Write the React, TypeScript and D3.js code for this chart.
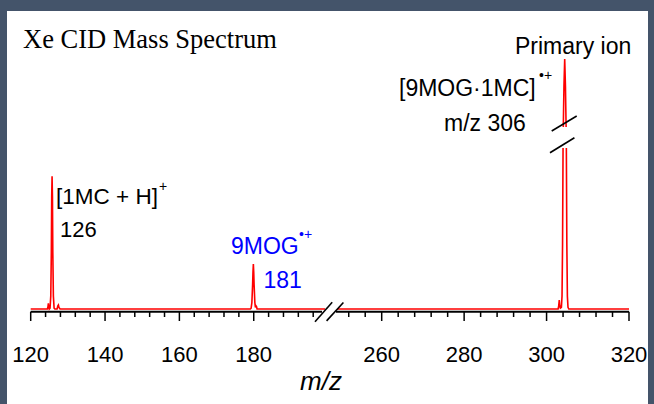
import * as d3 from 'd3'

// Spectrum traces, [m/z, relative intensity]
const leftSpectrum: [number, number][] = [
  [120, 0], [124.5, 0], [124.65, 1.5], [124.75, 3.5], [124.85, 1.5], [125.0, 0],
  [125.2, 0.5], [125.4, 8], [125.55, 35], [125.65, 70], [125.75, 82.5], [125.85, 70],
  [125.95, 35], [126.1, 8], [126.3, 0.5], [126.5, 0], [127.1, 0], [127.3, 2],
  [127.45, 2.5], [127.6, 1], [127.9, 0],
  [179.1, 0], [179.3, 0.5], [179.5, 4], [179.7, 15], [179.8, 23], [179.9, 28],
  [180.0, 23], [180.1, 15], [180.3, 4], [180.45, 1], [180.6, 2], [180.75, 1.5],
  [180.9, 0], [199.2, 0],
]

const rightSpectrum: [number, number][] = [
  [249.15, 0], [302.8, 0], [302.95, 2], [303.08, 5.5], [303.2, 2], [303.35, 0.5],
  [303.6, 1], [303.75, 8], [303.88, 40], [304.0, 100], [304.07, 130], [304.22, 200],
  [304.4, 250], [304.58, 200], [304.73, 130], [304.8, 100], [304.92, 40],
  [305.05, 8], [305.2, 1], [305.4, 0], [320, 0],
]

const leftMajor = [120, 140, 160, 180]
const rightMajor = [260, 280, 300, 320]
const leftMinor = d3.range(124, 197, 4).filter(v => !leftMajor.includes(v))
const rightMinor = d3.range(252, 320, 4).filter(v => !rightMajor.includes(v))

const SANS = "Arial, 'Liberation Sans', sans-serif"
const RED = '#ff0000'
const BLUE = '#0000ff'

export default function App() {
  const width = 654
  const height = 404
  const axisY = 311.7

  const xLeft = d3.scaleLinear().domain([120, 199.2]).range([30.7, 325.1])
  const xRight = d3.scaleLinear().domain([260, 320]).range([381.7, 629])
  // broken intensity axis: lower part and upper part of the tall peak
  const yLow = d3.scaleLinear().domain([0, 100]).range([309, 148])
  const yHigh = d3.scaleLinear().domain([125, 250]).range([127, 59])

  const lineLeft = d3.line<[number, number]>().x(d => xLeft(d[0])).y(d => yLow(d[1]))
  const lineRightLow = d3.line<[number, number]>().x(d => xRight(d[0])).y(d => yLow(d[1]))
  const lineRightHigh = d3.line<[number, number]>().x(d => xRight(d[0])).y(d => yHigh(d[1]))

  const slash = (cx: number, cy: number, dx: number, dy: number, key: string) => (
    <line key={key} x1={cx - dx} y1={cy + dy} x2={cx + dx} y2={cy - dy}
      stroke="#000" strokeWidth={1.6} />
  )

  return (
    <svg width={width} height={height}
      style={{ position: 'absolute', left: 0, top: 0, display: 'block' }}>
      <defs>
        <clipPath id="clipLow"><rect x={0} y={148} width={width} height={height} /></clipPath>
        <clipPath id="clipHigh"><rect x={0} y={0} width={width} height={127} /></clipPath>
      </defs>
      <rect x={0} y={0} width={width} height={height} fill="#44546a" />
      <rect x={7} y={11} width={641} height={393} fill="#fff" />

      <text x={23} y={48} fontFamily="'Times New Roman', 'Liberation Serif', serif"
        fontSize={26.5} fill="#000">Xe CID Mass Spectrum</text>

      {/* spectrum */}
      <path d={lineLeft(leftSpectrum) ?? ''} fill="none" stroke={RED} strokeWidth={1.6} />
      <path d={lineRightLow(rightSpectrum) ?? ''} fill="none" stroke={RED} strokeWidth={1.6}
        clipPath="url(#clipLow)" />
      <path d={lineRightHigh(rightSpectrum) ?? ''} fill="none" stroke={RED} strokeWidth={1.6}
        clipPath="url(#clipHigh)" />

      {/* y-break on the primary ion peak */}
      {slash(564.2, 123.5, 12.5, 7.5, 'yb1')}
      {slash(562.2, 145.2, 12.2, 7.5, 'yb2')}

      {/* x axis, two segments */}
      <line x1={xLeft(120)} x2={322} y1={axisY} y2={axisY} stroke="#000" strokeWidth={2} />
      <line x1={336} x2={xRight(320)} y1={axisY} y2={axisY} stroke="#000" strokeWidth={2} />
      {leftMinor.map(v => (
        <line key={'lm' + v} x1={xLeft(v)} x2={xLeft(v)} y1={axisY} y2={317}
          stroke="#000" strokeWidth={1.5} />
      ))}
      {rightMinor.map(v => (
        <line key={'rm' + v} x1={xRight(v)} x2={xRight(v)} y1={axisY} y2={317}
          stroke="#000" strokeWidth={1.5} />
      ))}
      {leftMajor.map(v => (
        <g key={'lM' + v}>
          <line x1={xLeft(v)} x2={xLeft(v)} y1={axisY} y2={321} stroke="#000" strokeWidth={1.5} />
          <text x={xLeft(v)} y={362} textAnchor="middle" fontFamily={SANS} fontSize={22}>{v}</text>
        </g>
      ))}
      {rightMajor.map(v => (
        <g key={'rM' + v}>
          <line x1={xRight(v)} x2={xRight(v)} y1={axisY} y2={321} stroke="#000" strokeWidth={1.5} />
          <text x={xRight(v)} y={362} textAnchor="middle" fontFamily={SANS} fontSize={22}>{v}</text>
        </g>
      ))}
      {slash(323.6, 312, 8.6, 9.7, 'xb1')}
      {slash(335, 311.7, 8.4, 9.2, 'xb2')}
      <text x={321} y={390} textAnchor="middle" fontFamily={SANS} fontSize={26}
        fontStyle="italic">m/z</text>

      {/* peak annotations */}
      <text x={515} y={54} fontFamily={SANS} fontSize={23}>Primary ion</text>
      <text x={399} y={96} fontFamily={SANS} fontSize={23}>[9MOG·1MC]</text>
      <text x={539} y={80} fontFamily={SANS} fontSize={14}>•+</text>
      <text x={444} y={131} fontFamily={SANS} fontSize={23}>m/z 306</text>

      <text x={56} y={204} fontFamily={SANS} fontSize={22.5}>[1MC + H]</text>
      <text x={159} y={191} fontFamily={SANS} fontSize={14}>+</text>
      <text x={60} y={237} fontFamily={SANS} fontSize={22}>126</text>

      <text x={231} y={254} fontFamily={SANS} fontSize={23} fill={BLUE}>9MOG</text>
      <text x={299} y={239} fontFamily={SANS} fontSize={14} fill={BLUE}>•+</text>
      <text x={263.5} y={288} fontFamily={SANS} fontSize={23} fill={BLUE}>181</text>
    </svg>
  )
}
